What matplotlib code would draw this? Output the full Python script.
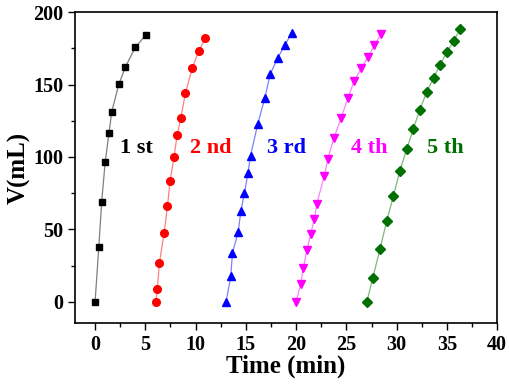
import matplotlib
matplotlib.use("Agg")
import matplotlib.pyplot as plt
from matplotlib.ticker import MultipleLocator

plt.rcParams['font.family'] = ['Liberation Serif', 'DejaVu Serif']
plt.rcParams['font.weight'] = 'bold'

# Run 1 (black squares)
t1 = [0, 0.37, 0.66, 1.0, 1.39, 1.66, 2.36, 3.02, 4.01, 5.04]
v1 = [0, 37.8, 69.2, 96.2, 116.8, 131.3, 150.1, 162.2, 175.7, 184.2]

# Run 2 (red circles)
t2 = [6.04, 6.2, 6.4, 6.87, 7.2, 7.46, 7.86, 8.16, 8.53, 8.99, 9.68, 10.3, 10.98]
v2 = [0, 9.2, 27.0, 47.7, 66.0, 83.4, 100.3, 115.0, 127.0, 144.3, 161.5, 173.0, 182.0]

# Run 3 (blue up triangles)
t3 = [13.03, 13.5, 13.66, 14.23, 14.5, 14.86, 15.2, 15.46, 16.19, 16.89, 17.41, 18.18, 18.9, 19.57]
v3 = [0, 17.7, 33.7, 48.0, 62.5, 75.2, 88.7, 100.8, 123.0, 140.9, 157.0, 168.4, 177.6, 185.6]

# Run 4 (magenta down triangles)
t4 = [20.0, 20.46, 20.72, 21.06, 21.45, 21.82, 22.05, 22.81, 23.14, 23.77,
      24.48, 25.14, 25.77, 26.47, 27.16, 27.79, 28.46]
v4 = [0, 12.6, 23.6, 35.5, 47.0, 57.3, 67.6, 87.1, 98.5, 113.4,
      127.1, 140.5, 152.4, 161.1, 169.1, 177.1, 185.2]

# Run 5 (green diamonds)
t5 = [27.03, 27.63, 28.33, 29.02, 29.68, 30.32, 31.01, 31.67, 32.27, 33.0,
      33.66, 34.33, 34.99, 35.65, 36.32]
v5 = [0, 16.8, 36.2, 56.1, 73.3, 90.5, 105.8, 119.6, 132.2, 145.0,
      154.6, 163.8, 172.3, 179.9, 188.3]

run_labels = ['1 st', '2 nd', '3 rd', '4 th', '5 th']
label_x = [2.5, 9.4, 17.1, 25.5, 33.0]
label_y = 106

series = [(t1, v1), (t2, v2), (t3, v3), (t4, v4), (t5, v5)]
colors = ['black', '#FF0000', '#0000FF', '#FF00FF', '#007000']
markers = ['s', 'o', '^', 'v', 'D']
msizes = [5, 5.5, 6, 6, 5]

fig = plt.figure(figsize=(5.1, 3.89), dpi=100)
ax = fig.add_axes([0.147, 0.17, 0.828, 0.799])

for (t, v), c, m, ms in zip(series, colors, markers, msizes):
    ax.plot(t, v, '-', color=c, lw=0.9, alpha=0.5)
    ax.plot(t, v, m, color=c, ms=ms, mec=c, ls='none')

for lab, x, c in zip(run_labels, label_x, colors):
    ax.text(x, label_y, lab, color=c, fontsize=16, fontweight='bold',
            ha='left', va='center')

ax.set_xlim(-2, 40)
ax.set_ylim(-14.5, 200)
ax.xaxis.set_major_locator(MultipleLocator(5))
ax.xaxis.set_minor_locator(MultipleLocator(2.5))
ax.yaxis.set_major_locator(MultipleLocator(50))
ax.yaxis.set_minor_locator(MultipleLocator(25))
ax.tick_params(which='major', direction='out', length=5, width=1, labelsize=14.5)
ax.tick_params(which='minor', direction='out', length=3, width=1)
for lab in ax.get_xticklabels() + ax.get_yticklabels():
    lab.set_fontweight('bold')
for s in ax.spines.values():
    s.set_linewidth(1.2)

ax.set_xlabel('Time (min)', fontsize=18, fontweight='bold', labelpad=0)
ax.set_ylabel('V(mL)', fontsize=18, fontweight='bold', labelpad=2)

fig.savefig('out.png', dpi=100)
